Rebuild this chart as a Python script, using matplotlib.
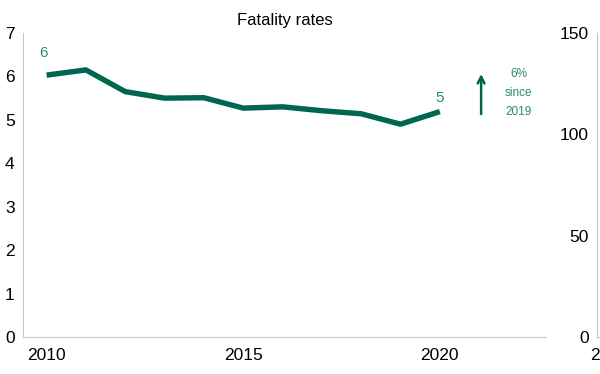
import matplotlib
matplotlib.use("Agg")
import matplotlib.pyplot as plt

plt.rcParams['font.family'] = ['Liberation Sans', 'DejaVu Sans']

years = [2010, 2011, 2012, 2013, 2014, 2015, 2016, 2017, 2018, 2019, 2020]
rates = [6.03, 6.15, 5.65, 5.50, 5.51, 5.27, 5.30, 5.21, 5.14, 4.90, 5.19]
xticks = [2010, 2015, 2020]
yticks = [0, 1, 2, 3, 4, 5, 6, 7]
right_ticks = [0, 50, 100, 150]

line_col = '#00664f'
label_col = '#2a8a74'
spine_col = '#c8c8c8'

fig = plt.figure(figsize=(6, 3.74), dpi=100)
ax = fig.add_axes([23 / 600, 1 - 337 / 374, 523 / 600, 304 / 374])

ax.plot(years, rates, color=line_col, lw=3.9, solid_capstyle='butt')
ax.set_xlim(2009.4, 2022.7)
ax.set_ylim(0, 7)
ax.set_xticks(xticks)
ax.set_yticks(yticks)
ax.tick_params(length=0, labelsize=12.5, pad=6)
ax.tick_params(axis='x', pad=8)
for s in ['top', 'right']:
    ax.spines[s].set_visible(False)
for s in ['left', 'bottom']:
    ax.spines[s].set_color(spine_col)
ax.set_title('Fatality rates', fontsize=12, pad=6)

# data labels
ax.annotate('6', (years[0], rates[0]), xytext=(-2, 11), textcoords='offset points',
            ha='center', va='bottom', color=label_col, fontsize=11)
ax.annotate('5', (years[-1], rates[-1]), xytext=(0, 5), textcoords='offset points',
            ha='center', va='bottom', color=label_col, fontsize=11)

# change arrow
ax.annotate('', xy=(2021.05, 6.12), xytext=(2021.05, 5.07),
            arrowprops=dict(arrowstyle='->', color=line_col, lw=1.8,
                            mutation_scale=12))
ax.text(2022.0, 5.62, '6%\nsince\n2019', ha='center', va='center',
        color=label_col, fontsize=8.5, linespacing=1.75)

# second panel, cut off at the right edge as in the original
ax2 = fig.add_axes([597 / 600, 1 - 337 / 374, 0.5, 304 / 374])
ax2.set_ylim(0, 150)
ax2.set_yticks(right_ticks)
ax2.set_xlim(0, 10)
ax2.set_xticks([0.42])
ax2.set_xticklabels(['2010'])
ax2.tick_params(length=0, labelsize=12.5, pad=6)
ax2.tick_params(axis='x', pad=8)
for s in ['top', 'right']:
    ax2.spines[s].set_visible(False)
for s in ['left', 'bottom']:
    ax2.spines[s].set_color(spine_col)

fig.savefig('out.png', dpi=100)
